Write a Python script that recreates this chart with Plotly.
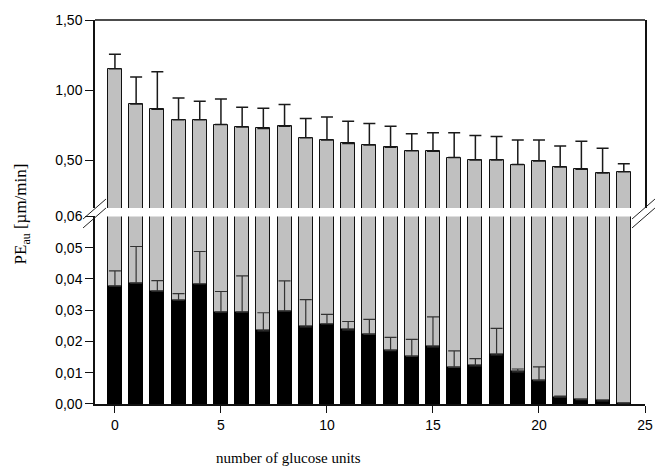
import plotly.graph_objects as go

# ---- data ----
glucose_units = list(range(25))
total_pe = [1.152, 0.901, 0.864, 0.788, 0.788, 0.755, 0.738, 0.727, 0.743, 0.660,
            0.644, 0.620, 0.609, 0.592, 0.568, 0.564, 0.519, 0.502, 0.502, 0.469,
            0.495, 0.452, 0.436, 0.410, 0.419]
total_err = [0.104, 0.192, 0.267, 0.156, 0.132, 0.182, 0.140, 0.144, 0.154, 0.138,
             0.165, 0.159, 0.153, 0.151, 0.121, 0.132, 0.177, 0.175, 0.168, 0.175,
             0.149, 0.149, 0.199, 0.175, 0.057]
part_pe = [0.0377, 0.0387, 0.0361, 0.0332, 0.0384, 0.0294, 0.0294, 0.0234, 0.0297, 0.0247,
           0.0256, 0.0237, 0.0223, 0.0171, 0.0152, 0.0183, 0.0117, 0.0122, 0.0157, 0.0103,
           0.0075, 0.0022, 0.0014, 0.0010, 0.0003]
part_err = [0.0049, 0.0117, 0.0034, 0.0021, 0.0104, 0.0066, 0.0116, 0.0058, 0.0097, 0.0087,
            0.0031, 0.0027, 0.0048, 0.0042, 0.0055, 0.0096, 0.0053, 0.0023, 0.0085, 0.0009,
            0.0044, 0.0003, 0.0, 0.0, 0.0]
lower_ticks = [0.0, 0.01, 0.02, 0.03, 0.04, 0.05, 0.06]
upper_ticks = [0.5, 1.0, 1.5]
x_ticks = [0, 5, 10, 15, 20, 25]

GRAY = "#c0c0c0"
BARW = 0.66
zeros = [0] * len(glucose_units)

fig = go.Figure()
# upper panel gray bars with error bars
fig.add_trace(go.Bar(
    x=glucose_units, y=total_pe, width=BARW, xaxis="x", yaxis="y2",
    marker=dict(color=GRAY, line=dict(color="#111", width=1)),
    error_y=dict(type="data", array=total_err, arrayminus=zeros, symmetric=False,
                 color="#1a1a1a", thickness=1.5, width=6),
    showlegend=False))
# lower panel gray bars (clipped)
fig.add_trace(go.Bar(
    x=glucose_units, y=total_pe, width=BARW, xaxis="x", yaxis="y",
    marker=dict(color=GRAY, line=dict(color="#111", width=1)),
    showlegend=False))
# lower panel black bars
fig.add_trace(go.Bar(
    x=glucose_units, y=part_pe, width=BARW, xaxis="x", yaxis="y",
    marker=dict(color="#000000", line=dict(color="#000", width=1)),
    error_y=dict(type="data", array=part_err, arrayminus=zeros, symmetric=False,
                 color="#333", thickness=1.2, width=6),
    showlegend=False))

W, H = 665, 468
L, R, T, B = 95, 17, 18, 64
pw, ph = W - L - R, H - T - B

def px(xp):
    return (xp - L) / pw

def py(yp):
    return (H - B - yp) / ph

lower_top = py(215.5)
upper_bot = py(207)

tickfont = dict(family="Liberation Sans, Arial, sans-serif", size=14, color="#000")

fig.update_layout(
    width=W, height=H,
    margin=dict(l=L, r=R, t=T, b=B),
    paper_bgcolor="white", plot_bgcolor="white",
    barmode="overlay", bargap=0,
    separators=",.",
    xaxis=dict(domain=[0, 1], range=[-0.94, 25], anchor="y",
               tickvals=x_ticks, ticks="outside", ticklen=7, tickwidth=1,
               tickcolor="#111", showline=True, linecolor="#111", linewidth=1.5,
               showgrid=False, zeroline=False, tickfont=tickfont),
    yaxis=dict(domain=[0, lower_top], range=[0, 0.06], anchor="x",
               tickvals=lower_ticks, tickformat=".2f", ticks="outside", ticklen=8,
               tickcolor="#111", showline=True, linecolor="#111", linewidth=1.5,
               showgrid=False, zeroline=False, tickfont=tickfont),
    yaxis2=dict(domain=[upper_bot, 1], range=[1.5 - 189 / 141, 1.5], anchor="x",
                tickvals=upper_ticks, tickformat=".2f", ticks="outside", ticklen=8,
                tickcolor="#111", showline=True, mirror=True, linecolor="#111",
                linewidth=1.5, showgrid=False, zeroline=False, tickfont=tickfont),
)

shapes = [dict(type="line", xref="paper", yref="paper", x0=0, x1=1, y0=1, y1=1,
               line=dict(color="#111", width=1.5))]
for axx in (95, 647):
    for (ya, yb) in ((218, 198), (227, 207)):
        shapes.append(dict(type="line", xref="paper", yref="paper",
                           x0=px(axx - 12), x1=px(axx + 11), y0=py(ya), y1=py(yb),
                           line=dict(color="#222", width=1)))
fig.update_layout(shapes=shapes)

fig.add_annotation(text="number of glucose units", xref="paper", yref="paper",
                   x=px(290), y=py(458), xanchor="center", yanchor="middle",
                   showarrow=False,
                   font=dict(family="Liberation Serif, Times New Roman, serif", size=15, color="#000"))
fig.add_annotation(text="PE<sub>au</sub> [µm/min]", xref="paper", yref="paper",
                   x=px(22), y=py(213), xanchor="center", yanchor="middle",
                   textangle=-90, showarrow=False,
                   font=dict(family="Liberation Serif, Times New Roman, serif", size=17, color="#000"))

fig.write_html("out.html")
